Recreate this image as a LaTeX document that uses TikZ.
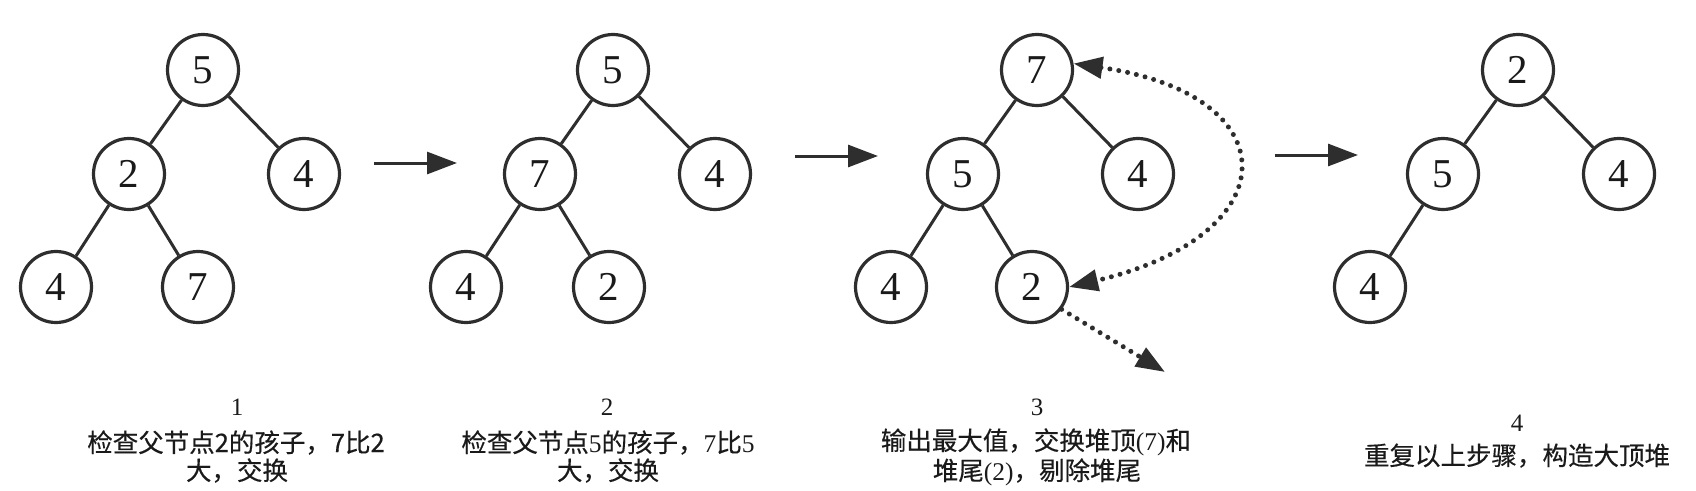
\documentclass[tikz,border=0pt]{standalone}
\usepackage{fontspec}
\setmainfont{Liberation Serif}
\newfontfamily\cjk[FakeBold=0.4]{Noto Sans CJK SC}
\usetikzlibrary{arrows.meta}
\definecolor{ink}{HTML}{2E2E2E}
\definecolor{txt}{HTML}{1A1A1A}
\begin{document}
\begin{tikzpicture}[x=1pt,y=-1pt,
  hnode/.style={circle, draw=ink, line width=3.2pt, minimum size=71pt, inner sep=0pt, font=\fontsize{41}{41}\selectfont, text=txt},
  tedge/.style={draw=ink, line width=3pt},
  steparrow/.style={draw=ink, line width=3pt, -{Triangle[length=30pt,width=22pt]}},
  dotarrow/.style={draw=ink, line width=5pt, line cap=round, dash pattern=on 0pt off 9pt},
  capnum/.style={anchor=base, font=\fontsize{25}{25}\selectfont, text=txt, inner sep=0pt},
  captxt/.style={anchor=base, font=\cjk\fontsize{25.5}{25.5}\selectfont, text=txt, inner sep=0pt}]
\useasboundingbox (0,0) rectangle (1696,490);

% tree 1
\node[hnode] (r1) at (203,70) {5};
\node[hnode] (l1) at (129,174) {2};
\node[hnode] (q1) at (304,174) {4};
\node[hnode] (ll1) at (56,287) {4};
\node[hnode] (lr1) at (198,287) {7};
\draw[tedge] (r1) -- (l1);
\draw[tedge] (r1) -- (q1);
\draw[tedge] (l1) -- (ll1);
\draw[tedge] (l1) -- (lr1);

% tree 2
\node[hnode] (r2) at (613,70) {5};
\node[hnode] (l2) at (540,174) {7};
\node[hnode] (q2) at (715,174) {4};
\node[hnode] (ll2) at (466,287) {4};
\node[hnode] (lr2) at (609,287) {2};
\draw[tedge] (r2) -- (l2);
\draw[tedge] (r2) -- (q2);
\draw[tedge] (l2) -- (ll2);
\draw[tedge] (l2) -- (lr2);

% tree 3
\node[hnode] (r3) at (1037,70) {7};
\node[hnode] (l3) at (963,174) {5};
\node[hnode] (q3) at (1138,174) {4};
\node[hnode] (ll3) at (891,287) {4};
\node[hnode] (lr3) at (1032,287) {2};
\draw[tedge] (r3) -- (l3);
\draw[tedge] (r3) -- (q3);
\draw[tedge] (l3) -- (ll3);
\draw[tedge] (l3) -- (lr3);

% tree 4
\node[hnode] (r4) at (1518,70) {2};
\node[hnode] (l4) at (1443,174) {5};
\node[hnode] (q4) at (1619,174) {4};
\node[hnode] (ll4) at (1370,287) {4};
\draw[tedge] (r4) -- (l4);
\draw[tedge] (r4) -- (q4);
\draw[tedge] (l4) -- (ll4);

% step arrows
\coordinate (a1s) at (374,163);
\coordinate (a1e) at (457,163);
\coordinate (a2s) at (795,156);
\coordinate (a2e) at (878,156);
\coordinate (a3s) at (1275,155);
\coordinate (a3e) at (1358,155);
\draw[steparrow] (a1s) -- (a1e);
\draw[steparrow] (a2s) -- (a2e);
\draw[steparrow] (a3s) -- (a3e);

% dotted swap and removal
\draw[dotarrow, {Triangle[length=29pt,width=21pt]}-{Triangle[length=29pt,width=21pt]}]
  (r3.10) .. controls (1290,95) and (1290,235) .. (lr3.east);
\coordinate (out3) at (1165,372);
\draw[dotarrow, -{Triangle[length=29pt,width=21pt]}] (lr3.-37) -- (out3);

% captions
\node[capnum] (n1) at (237,415) {1};
\node[captxt] (c1a) at (236,452) {检查父节点2的孩子，7比2};
\node[captxt] (c1b) at (237,480) {大，交换};

\node[capnum] (n2) at (607,415) {2};
\node[captxt] (c2a) at (608,452) {检查父节点{\rmfamily 5}的孩子，{\rmfamily 7}比{\rmfamily 5}};
\node[captxt] (c2b) at (608,480) {大，交换};

\node[capnum] (n3) at (1037,415) {3};
\node[captxt] (c3a) at (1036,450) {输出最大值，交换堆顶{\rmfamily (7)}和};
\node[captxt] (c3b) at (1037,480) {堆尾{\rmfamily (2)}，剔除堆尾};

\node[capnum] (n4) at (1517,431) {4};
\node[captxt] (c4a) at (1517,465) {重复以上步骤，构造大顶堆};
\end{tikzpicture}
\end{document}
